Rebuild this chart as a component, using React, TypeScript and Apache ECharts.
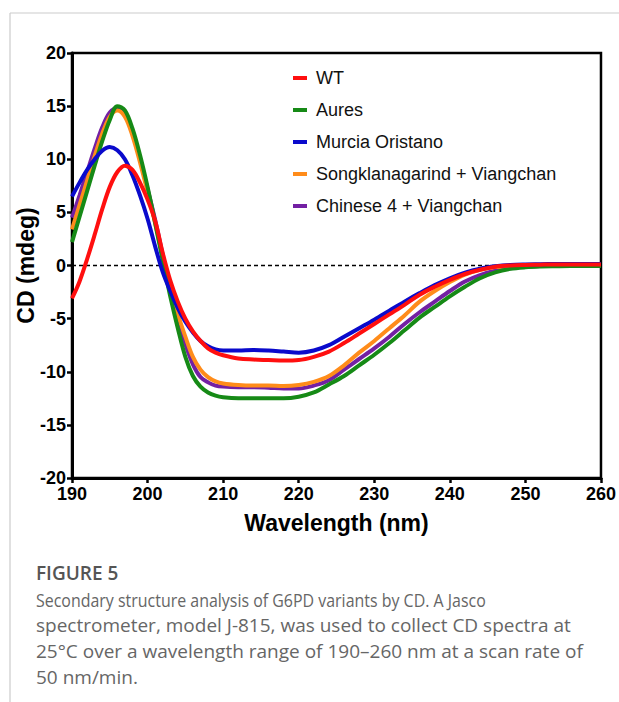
import React, { useEffect, useRef } from "react";
import * as echarts from "echarts";

const wavelengths = [
  190, 191, 192, 193, 194, 195, 196, 197, 198, 199, 200, 201, 202, 203, 204, 205, 206, 207, 208, 209, 210,
  212, 214, 216, 218, 220, 222, 224, 226, 228, 230, 232, 234, 236, 238, 240, 242, 244, 246, 248, 250, 252, 254, 256, 258, 260,
];

const wt = [
  -3.1, -1.5, 0.6, 2.9, 5.3, 7.4, 8.8, 9.4, 9.0, 7.8, 6.2, 4.2, 1.2, -1.4, -3.4, -5.0, -6.2, -7.1, -7.8, -8.2, -8.45,
  -8.75, -8.85, -8.9, -8.95, -8.9, -8.6, -8.1, -7.3, -6.4, -5.5, -4.6, -3.7, -2.75, -2.0, -1.35, -0.8, -0.4, -0.12, 0.0, 0.05, 0.08, 0.1, 0.1, 0.1, 0.1,
];
const aures = [
  2.2, 4.6, 7.0, 9.4, 11.7, 13.7, 15.0, 14.6, 12.9, 10.4, 7.4, 4.0, 0.5, -2.9, -5.9, -8.6, -10.4, -11.4, -11.95, -12.25, -12.4,
  -12.5, -12.5, -12.5, -12.5, -12.35, -11.95, -11.2, -10.4, -9.4, -8.4, -7.3, -6.1, -4.9, -3.9, -2.9, -2.0, -1.2, -0.65, -0.32, -0.17, -0.1, -0.07, -0.05, -0.05, -0.05,
];
const murcia = [
  6.5, 7.8, 9.0, 10.0, 10.8, 11.15, 10.85, 10.0, 8.5, 6.6, 4.4, 1.8, -0.6, -2.4, -4.0, -5.3, -6.3, -7.1, -7.6, -7.9, -8.0,
  -8.0, -7.95, -8.0, -8.1, -8.2, -8.0, -7.5, -6.7, -5.9, -5.1, -4.25, -3.4, -2.6, -1.85, -1.2, -0.67, -0.3, -0.08, 0.05, 0.1, 0.12, 0.14, 0.15, 0.15, 0.15,
];
const songkla = [
  3.4, 5.7, 8.0, 10.3, 12.4, 14.0, 14.6, 14.0, 12.2, 9.7, 6.9, 4.0, 0.8, -2.4, -4.6, -6.7, -8.6, -9.8, -10.5, -10.9, -11.1,
  -11.25, -11.3, -11.3, -11.35, -11.25, -10.95, -10.4, -9.4, -8.2, -7.1, -5.9, -4.7, -3.4, -2.4, -1.55, -0.85, -0.4, -0.15, -0.05, 0.0, 0.02, 0.03, 0.03, 0.03, 0.03,
];
const chinese4 = [
  4.5, 6.6, 8.8, 11.0, 13.0, 14.4, 14.8, 14.2, 12.5, 10.0, 7.2, 4.3, 1.0, -2.2, -5.0, -7.4, -9.3, -10.5, -11.0, -11.3, -11.4,
  -11.45, -11.45, -11.5, -11.57, -11.57, -11.3, -10.8, -9.8, -8.8, -7.8, -6.7, -5.5, -4.4, -3.4, -2.4, -1.5, -0.9, -0.5, -0.25, -0.1, -0.05, 0, 0, 0, 0,
];

const legendNames = ["WT", "Aures", "Murcia Oristano", "Songklanagarind + Viangchan", "Chinese 4 + Viangchan"];
const xTicks = { min: 190, max: 260, interval: 10 };
const yTicks = { min: -20, max: 20, interval: 5 };

const captionTitle = "FIGURE 5";
const captionLines = [
  "Secondary structure analysis of G6PD variants by CD. A Jasco",
  "spectrometer, model J-815, was used to collect CD spectra at",
  "25°C over a wavelength range of 190–260 nm at a scan rate of",
  "50 nm/min.",
];
const captionScaleX = [0.84, 1.0, 1.0, 1.0];

const ARIAL = "'Liberation Sans', Arial, sans-serif";

export default function App() {
  const ref = useRef<HTMLDivElement>(null);
  useEffect(() => {
    if (!ref.current) return;
    const chart = echarts.init(ref.current, undefined, { renderer: "svg" });
    const mk = (name: string, vals: number[], color: string, z: number) => ({
      name,
      type: "line",
      data: wavelengths.map((w, i) => [w, vals[i]]),
      smooth: 0.35,
      showSymbol: false,
      symbol: "none",
      z,
      lineStyle: { color, width: 4 },
      itemStyle: { color },
    });
    chart.setOption({
      animation: false,
      backgroundColor: "#ffffff",
      grid: {
        left: 72,
        right: 18,
        top: 53,
        bottom: 224,
        show: true,
        borderColor: "#000",
        borderWidth: 2.5,
        backgroundColor: "transparent",
      },
      legend: {
        orient: "vertical",
        left: 288,
        top: 64,
        itemGap: 14,
        itemWidth: 14,
        itemHeight: 4,
        icon: "rect",
        data: legendNames,
        textStyle: { fontFamily: ARIAL, fontSize: 18, color: "#111", padding: [0, 0, 0, 4] },
      },
      xAxis: {
        type: "value",
        min: xTicks.min,
        max: xTicks.max,
        interval: xTicks.interval,
        name: "Wavelength (nm)",
        nameLocation: "middle",
        nameGap: 33,
        nameMoveOverlap: false,
        nameTextStyle: { fontFamily: ARIAL, fontSize: 23, fontWeight: "bold", color: "#000" },
        axisLine: { onZero: false, lineStyle: { color: "#000", width: 3 } },
        axisTick: { show: true, length: 5, lineStyle: { color: "#000", width: 2.5 } },
        axisLabel: { fontFamily: ARIAL, fontSize: 18, fontWeight: "bold", color: "#000", margin: 7 },
        splitLine: { show: false },
      },
      yAxis: {
        type: "value",
        min: yTicks.min,
        max: yTicks.max,
        interval: yTicks.interval,
        name: "CD (mdeg)",
        nameLocation: "middle",
        nameGap: 35,
        nameMoveOverlap: false,
        nameTextStyle: { fontFamily: ARIAL, fontSize: 23, fontWeight: "bold", color: "#000" },
        axisLine: { onZero: false, lineStyle: { color: "#000", width: 3 } },
        axisTick: { show: true, length: 5, lineStyle: { color: "#000", width: 2.5 } },
        axisLabel: { fontFamily: ARIAL, fontSize: 18, fontWeight: "bold", color: "#000", margin: 6 },
        splitLine: { show: false },
      },
      series: [
        {
          name: "zero",
          type: "line",
          data: [[xTicks.min, 0], [xTicks.max, 0]],
          showSymbol: false,
          symbol: "none",
          silent: true,
          z: 1,
          lineStyle: { color: "#000", width: 1.3, type: [4, 3] },
        },
        mk("Chinese 4 + Viangchan", chinese4, "#7320a3", 2),
        mk("Songklanagarind + Viangchan", songkla, "#ff8c1a", 3),
        mk("Aures", aures, "#168a16", 4),
        mk("Murcia Oristano", murcia, "#0a0acc", 5),
        mk("WT", wt, "#ff0f0f", 6),
      ],
      graphic: [
        { type: "line", shape: { x1: 10, y1: 13, x2: 619, y2: 13 }, style: { stroke: "#cccccc", lineWidth: 1.2 } },
        { type: "line", shape: { x1: 10, y1: 13, x2: 10, y2: 702 }, style: { stroke: "#cccccc", lineWidth: 1.2 } },
        {
          type: "text",
          x: 36,
          y: 573,
          style: { text: captionTitle, fontFamily: "'Open Sans', sans-serif", fontSize: 19, fontWeight: 600, fill: "#555", verticalAlign: "middle" },
        },
        ...captionLines.map((t, i) => ({
          type: "text",
          x: 36,
          y: 599 + i * 26,
          scaleX: captionScaleX[i],
          style: { text: t, fontFamily: "'Open Sans', sans-serif", fontSize: 19, fill: "#666", verticalAlign: "middle" },
        })),
      ],
    });
    return () => chart.dispose();
  }, []);
  return <div ref={ref} style={{ position: "absolute", left: 0, top: 0, width: 619, height: 702 }} />;
}
